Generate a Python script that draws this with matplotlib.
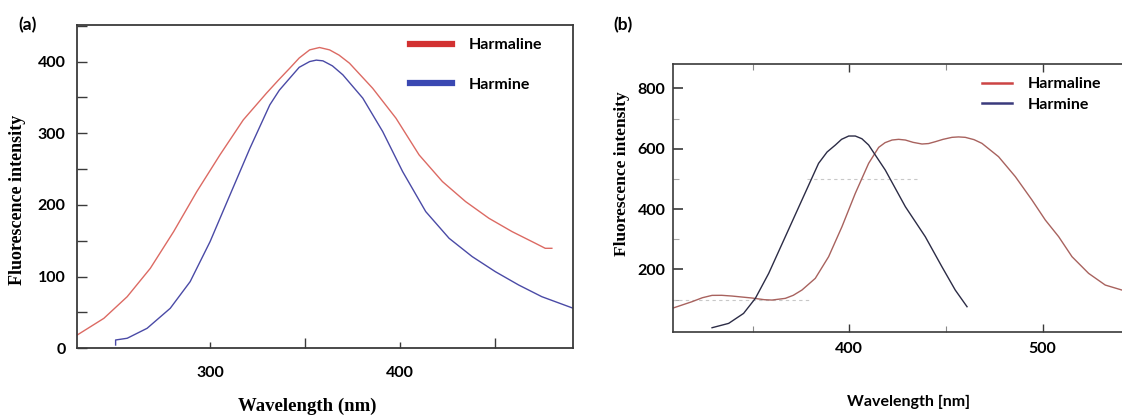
import matplotlib
matplotlib.use('Agg')
import matplotlib.pyplot as plt
from matplotlib.ticker import MultipleLocator, FixedLocator, NullFormatter

# ---- panel (a): emission spectra
harmaline_a_wl = [230, 244, 256.3, 268.5, 280.8, 293, 305.2, 317.5, 329.7, 336, 342, 347, 352.5, 357.7,
                  363, 368, 373.5, 385.7, 398, 410.2, 422.5, 434.7, 447, 459.2, 471.5, 476.7, 480.2]
harmaline_a_int = [18.6, 41.8, 72, 111.6, 162.8, 218.6, 269.8, 318.6, 355.8, 374, 390.7, 405, 416.3, 419.6,
                   416.3, 409, 397.7, 362.8, 321, 269.8, 232.6, 204.7, 181.4, 162.8, 146.5, 139.5, 139.5]

harmine_a_wl = [250.2, 250.2, 256.3, 266.8, 279, 289.5, 300, 310.5, 321, 331.5, 336.5, 342, 347, 352.5,
                356, 359.5, 364.5, 370, 380.5, 391, 401.5, 413.7, 426, 438.2, 450.4, 462.7, 474.9, 491.5]
harmine_a_int = [4.6, 11.6, 14, 27.9, 55.8, 93, 148.8, 214, 279, 339.6, 360, 376.8, 392, 400,
                 402, 401, 394, 381.5, 349, 302.4, 246.6, 190.7, 153.5, 127.9, 106.9, 88.3, 72, 55.8]

# ---- panel (b)
harmaline_b_wl = [308.3, 318.6, 324, 329, 334, 339.3, 349.7, 356, 360, 366.9, 371, 375.5, 382.4, 389.3,
                  396.2, 403.1, 410, 415.2, 418.5, 422.1, 425.5, 429, 433, 437.6, 441, 444.5, 448.5,
                  453.1, 456.5, 460, 464.5, 468.6, 477.2, 485.9, 494.5, 501.4, 508.3, 515.2, 523.8,
                  532.4, 541]
harmaline_b_int = [70.7, 92.8, 106, 113.8, 114, 111.6, 105, 99.5, 98.3, 103.9, 114, 131.5, 170.2, 242,
                   341.4, 452, 551.4, 604.4, 620, 628.7, 631, 628.7, 621, 615.5, 617, 623.2, 631,
                   637.6, 639, 637.6, 630, 617.7, 573.5, 507.2, 429.8, 363.5, 308.3, 242, 186.7,
                   148, 131.5]

harmine_b_wl = [329, 337.6, 345.3, 351.4, 358.3, 366.9, 375.5, 384.1, 388.5, 392.8, 396, 399.7, 403.1,
                406.5, 410, 418.6, 429, 439.3, 447.9, 454.8, 460.9]
harmine_b_int = [6.6, 21, 54, 103.9, 186.7, 308.3, 430, 551.4, 589, 612.2, 631, 642, 642,
                 633, 612.2, 529.3, 407.7, 308.3, 208.8, 131.5, 76.2]

# faint dashed guide fragments visible in the scanned panel (b)
guide_levels = [100, 500]
guide_starts = [308.3, 378]
guide_ends = [380, 436.7]

labels = ['Harmaline', 'Harmine']

W, H = 1122, 415
SANS = ['Lato', 'DejaVu Sans']
SERIF = ['Liberation Serif', 'DejaVu Serif']
SPINE = '#3a3a3a'


def fx(px):
    return px / W


def fy(py):
    return 1 - py / H


fig = plt.figure(figsize=(W / 100, H / 100), dpi=100)

# ================= (a)
ax = fig.add_axes([fx(77.3), fy(348.3), (573.3 - 77.3) / W, (348.3 - 25) / H])
ax.plot(harmaline_a_wl, harmaline_a_int, color='#dc6a63', lw=1.0)
ax.plot(harmine_a_wl, harmine_a_int, color='#4a4aa6', lw=1.0)
ax.set_xlim(230, 491.5)
ax.set_ylim(0, 451)

ax.xaxis.set_major_locator(FixedLocator([300, 400]))
ax.xaxis.set_minor_locator(FixedLocator([350, 450]))
ax.yaxis.set_major_locator(MultipleLocator(100))
ax.yaxis.set_minor_locator(MultipleLocator(50))
ax.tick_params(axis='x', which='major', direction='in', length=4.5, width=1, color=SPINE, pad=12.5)
ax.tick_params(axis='x', which='minor', direction='in', length=7, width=1, color=SPINE)
ax.tick_params(axis='y', which='both', direction='in', length=7, width=1, color=SPINE, pad=8.5)
for s in ax.spines.values():
    s.set_color(SPINE)
    s.set_linewidth(1.3)
for t in ax.get_xticklabels() + ax.get_yticklabels():
    t.set_fontfamily(SANS)
    t.set_fontweight('bold')
    t.set_fontsize(11.5)

ax.legend([plt.Line2D([], [], color='#d23131', lw=4.5),
           plt.Line2D([], [], color='#3a48b2', lw=4.5)],
          labels, loc='upper left', bbox_to_anchor=((410 - 77.3) / 496, (348.3 - 38) / 323.3),
          frameon=False, borderpad=0, borderaxespad=0, handlelength=2.6,
          handletextpad=1.05, labelspacing=1.6,
          prop={'family': SANS, 'weight': 'bold', 'size': 11.5})

fig.text(fx(307), fy(406), 'Wavelength (nm)', ha='center', va='center',
         family=SERIF, weight='bold', size=13.5)
fig.text(fx(18), fy(200), 'Fluorescence intensity', ha='center', va='center', rotation=90,
         family=SERIF, weight='bold', size=13)
fig.text(fx(27.5), fy(25), '(a)', ha='center', va='center', family=SANS, weight='bold', size=12.5)

# ================= (b)
bx = fig.add_axes([fx(673), fy(331.7), (1130 - 673) / W, (331.7 - 64) / H])
for lvl, x0, x1 in zip(guide_levels, guide_starts, guide_ends):
    bx.hlines(lvl, x0, x1, colors='#c8c8c8', linestyles=(0, (3, 3)), lw=0.8)
bx.plot(harmaline_b_wl, harmaline_b_int, color='#a8625e', lw=1.0)
bx.plot(harmine_b_wl, harmine_b_int, color='#2c2c46', lw=1.0)
bx.set_xlim(308.8, 545.2)
bx.set_ylim(-6.6, 880.7)

bx.xaxis.set_major_locator(MultipleLocator(100))
bx.xaxis.set_minor_locator(FixedLocator([350, 450]))
bx.yaxis.set_major_locator(FixedLocator([200, 400, 600, 800]))
bx.yaxis.set_minor_locator(FixedLocator([100, 300, 500, 700]))
bx.xaxis.set_minor_formatter(NullFormatter())
bx.tick_params(axis='x', which='major', direction='in', length=6, width=1, color=SPINE,
               top=True, pad=7.5)
bx.tick_params(axis='x', which='minor', direction='in', length=4, width=0.8, color='#8a8a8a',
               top=True)
bx.tick_params(axis='y', which='major', direction='in', length=7, width=1.2, color=SPINE, pad=5.5)
bx.tick_params(axis='y', which='minor', direction='in', length=4, width=0.8, color='#aaaaaa')
for s in bx.spines.values():
    s.set_color(SPINE)
    s.set_linewidth(1.2)
for t in bx.get_xticklabels() + bx.get_yticklabels():
    t.set_fontfamily(SANS)
    t.set_fontweight('bold')
    t.set_fontsize(11.5)

bx.legend([plt.Line2D([], [], color='#cc4444', lw=1.8),
           plt.Line2D([], [], color='#3a3a7c', lw=1.8)],
          labels, loc='upper left', bbox_to_anchor=((982 - 673) / 457, (331.7 - 77) / 267.7),
          frameon=False, borderpad=0, borderaxespad=0, handlelength=1.9,
          handletextpad=0.95, labelspacing=0.4,
          prop={'family': SANS, 'weight': 'bold', 'size': 11.5})

fig.text(fx(909), fy(402), 'Wavelength [nm]', ha='center', va='center',
         family=SANS, weight='bold', size=11.5)
fig.text(fx(622), fy(174), 'Fluorescence intensity', ha='center', va='center', rotation=90,
         family=SERIF, weight='bold', size=12.5)
fig.text(fx(623), fy(25), '(b)', ha='center', va='center', family=SANS, weight='bold', size=12.5)

fig.savefig('out.png', dpi=100)
